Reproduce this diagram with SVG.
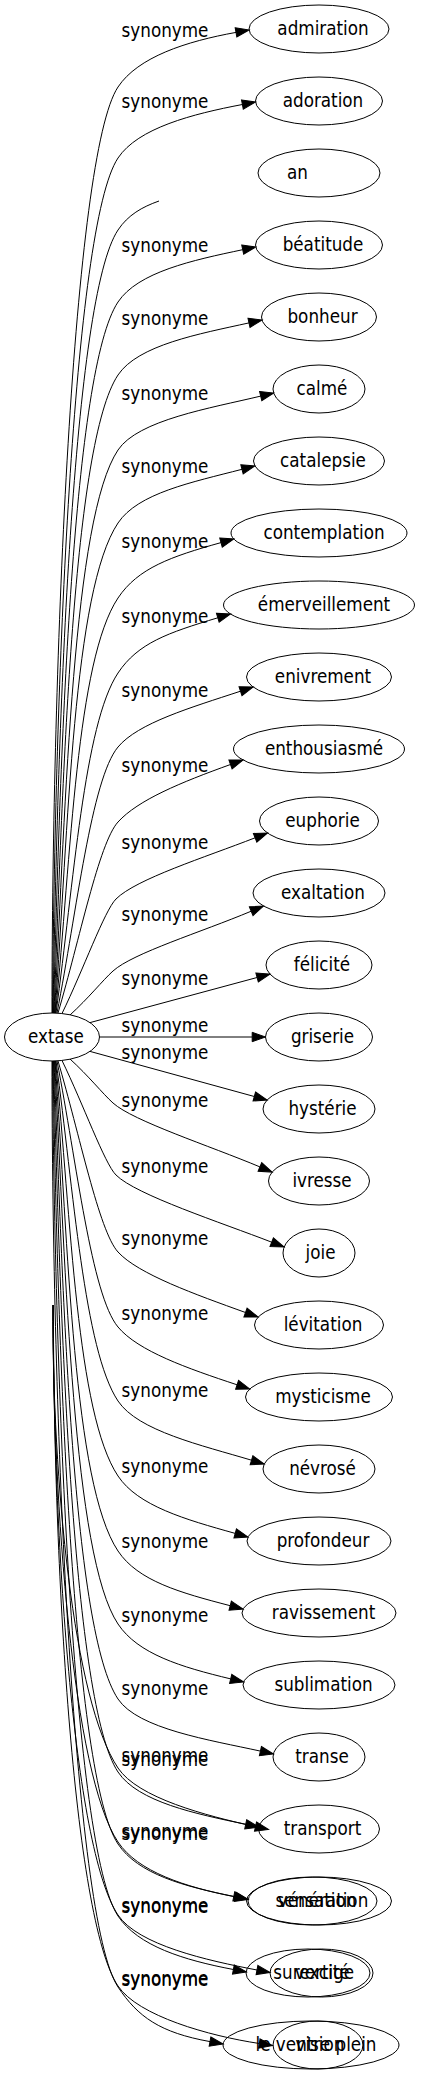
<svg xmlns="http://www.w3.org/2000/svg" width="421" height="2075" viewBox="0 0 421 2075">
<style>
text{font-family:"DejaVu Sans","Liberation Sans",sans-serif;font-stretch:condensed;font-size:18.67px;fill:#000}
.n text{text-anchor:middle}
.e text{text-anchor:middle}
.n ellipse{fill:none;stroke:#000;stroke-width:1}
.e path{fill:none;stroke:#000;stroke-width:1}
.a{marker-end:url(#arr)}
</style>
<defs>
<marker id="arr" markerWidth="14" markerHeight="10" refX="0" refY="4.7" orient="auto" markerUnits="userSpaceOnUse" overflow="visible"><path d="M0,0 L13.3,4.7 L0,9.4 Z" fill="#000" stroke="#000" stroke-width="1"/></marker>
</defs>
<rect width="421" height="2075" fill="#fff"/>
<g id="edges" class="e">
<path class="a" d="M52,1013 C52,661 73,154.5 118,87 C138,57 186,41.4 236,32.4"/><text x="165" y="37">synonyme</text>
<path class="a" d="M52.5,1013 C54.8,688 73,225.5 118,158 C138,128 192.4,114 242.4,104.5"/><text x="165" y="108">synonyme</text>
<path d="M53,1013 C57.6,715.5 73,297.5 118,230 C128,215 142,207 159,201"/>
<path class="a" d="M53.5,1013 C60.4,743 73,369.5 118,302 C138,272 192.7,260.2 242.7,249.7"/><text x="165" y="252">synonyme</text>
<path class="a" d="M54,1013 C63.1,770.6 73,442.5 118,375 C138,345 199,333.9 249,322.9"/><text x="165" y="325">synonyme</text>
<path class="a" d="M54.5,1013 C65.9,799 73,517.5 118,450 C138,420 210.7,408.1 260.7,396.1"/><text x="165" y="400">synonyme</text>
<path class="a" d="M55,1013 C68.5,827 73,590.5 118,523 C138,493 192,482.3 242,469.3"/><text x="165" y="473">synonyme</text>
<path class="a" d="M55.5,1013 C71.1,855.3 76.5,660.3 118,598 C138,568 171,556.6 221,542.6"/><text x="165" y="548">synonyme</text>
<path class="a" d="M56,1013 C73.7,883.8 84,724 118,673 C138,643 167.8,632.8 217.8,617.8"/><text x="165" y="623">synonyme</text>
<path class="a" d="M57,1013 C76.6,912 91.4,778.9 118,747 C138,723 190.5,707.7 240.5,691.2"/><text x="165" y="697">synonyme</text>
<path class="a" d="M58,1013 C79.4,940.4 98.9,843 118,822 C138,800 180.5,782.5 230.5,764.5"/><text x="165" y="772">synonyme</text>
<path class="a" d="M62,1013.5 C83.2,970 104.5,910.5 116,899 C136,879 205.1,857.3 255.1,837.8"/><text x="165" y="849">synonyme</text>
<path class="a" d="M70,1015 C88.4,998.3 103,980 113,971 C133,953 201.2,932.2 251.2,911.2"/><text x="165" y="921">synonyme</text>
<path class="a" d="M90,1022.6 L257.1,977.5"/><text x="165" y="985">synonyme</text>
<path class="a" d="M99.5,1037 L252.2,1037"/><text x="165" y="1032">synonyme</text>
<path class="a" d="M90,1051.4 L254.3,1096.5"/><text x="165" y="1059">synonyme</text>
<path class="a" d="M70,1059 C88.4,1075.7 103,1094 113,1103 C133,1121 209.9,1145.9 259.9,1166.9"/><text x="165" y="1107">synonyme</text>
<path class="a" d="M62,1060.5 C83.2,1104 104.5,1163.5 116,1175 C136,1195 221.7,1222.7 271.7,1242.2"/><text x="165" y="1173">synonyme</text>
<path class="a" d="M58,1061 C79.4,1133.6 98.9,1231 118,1252 C138,1274 195.5,1294.5 245.5,1312.5"/><text x="165" y="1245">synonyme</text>
<path class="a" d="M57,1061 C76.6,1162 91.4,1295.1 118,1327 C138,1351 187.1,1368.3 237.1,1384.8"/><text x="165" y="1320">synonyme</text>
<path class="a" d="M56,1061 C73.7,1190.2 84,1350 118,1401 C138,1431 201.5,1445.2 251.5,1460.2"/><text x="165" y="1397">synonyme</text>
<path class="a" d="M55.5,1061 C71.1,1218.7 76.5,1413.7 118,1476 C138,1506 185.2,1519.4 235.2,1533.4"/><text x="165" y="1473">synonyme</text>
<path class="a" d="M55,1061 C68.5,1247 73,1483.5 118,1551 C138,1581 180.2,1592.7 230.2,1605.7"/><text x="165" y="1548">synonyme</text>
<path class="a" d="M54.5,1061 C65.9,1275 73,1556.5 118,1624 C138,1654 180.7,1666.9 230.7,1678.9"/><text x="165" y="1622">synonyme</text>
<path class="a" d="M54,1061 C63.1,1303.4 73,1631.5 118,1699 C138,1729 210.4,1740.1 260.4,1751.1"/><text x="165" y="1695">synonyme</text>
<path class="a" d="M53.5,1061 C60.4,1331 73,1704.5 118,1772 C138,1802 195.7,1813.8 245.7,1824.3"/><text x="165" y="1766">synonyme</text>
<path class="a" d="M52.7,1305 C52.7,1481 73,1700.5 118,1768 C138,1798 205.5,1815.6 255.5,1826.6"/><text x="165" y="1762">synonyme</text>
<path class="a" d="M53,1061 C57.6,1358.5 73,1776.5 118,1844 C138,1874 183.8,1886.4 233.8,1896.4"/><text x="165" y="1840">synonyme</text>
<path class="a" d="M53,1305 C53,1509 73,1774.5 118,1842 C138,1872 185.2,1886.9 235.2,1896.9"/><text x="165" y="1838">synonyme</text>
<path class="a" d="M52.5,1061 C54.8,1386 73,1848.5 118,1916 C138,1946 183.4,1960 233.4,1969.5"/><text x="165" y="1913">synonyme</text>
<path class="a" d="M53.2,1305 C53.2,1537 73,1847.5 118,1915 C138,1945 207,1960.5 257,1970"/><text x="165" y="1912">synonyme</text>
<path class="a" d="M52,1061 C52,1413 73,1919.5 118,1987 C138,2017 160,2032.6 210,2041.6"/><text x="165" y="1986">synonyme</text>
<path class="a" d="M53.4,1305 C53.4,1563 73,1918.5 118,1986 C138,2016 209.35,2036 259.35,2043.5"/><text x="165" y="1985">synonyme</text>
</g>
<g id="n-extase" class="n"><ellipse cx="52" cy="1037" rx="47.5" ry="24"/><text x="56" y="1043">extase</text></g>
<g id="n-admiration" class="n"><ellipse cx="319" cy="29" rx="70" ry="24"/><text x="323" y="35">admiration</text></g>
<g id="n-adoration" class="n"><ellipse cx="319" cy="101" rx="63.5" ry="24"/><text x="323" y="107">adoration</text></g>
<g id="n-an" class="n"><ellipse cx="319" cy="173" rx="61" ry="24"/><text x="287" y="179" style="text-anchor:start">an</text></g>
<g id="n-beatitude" class="n"><ellipse cx="319" cy="245" rx="63.5" ry="24"/><text x="323" y="251">béatitude</text></g>
<g id="n-bonheur" class="n"><ellipse cx="319" cy="317" rx="57.5" ry="24"/><text x="322.5" y="323">bonheur</text></g>
<g id="n-calme" class="n"><ellipse cx="319" cy="389" rx="46" ry="24"/><text x="322" y="395">calmé</text></g>
<g id="n-catalepsie" class="n"><ellipse cx="319" cy="461" rx="65.5" ry="24"/><text x="323" y="467">catalepsie</text></g>
<g id="n-contemplation" class="n"><ellipse cx="319" cy="533" rx="88" ry="24"/><text x="324" y="539">contemplation</text></g>
<g id="n-emerveillement" class="n"><ellipse cx="319" cy="605" rx="95.5" ry="24"/><text x="324" y="611">émerveillement</text></g>
<g id="n-enivrement" class="n"><ellipse cx="319" cy="677" rx="72.5" ry="24"/><text x="323" y="683">enivrement</text></g>
<g id="n-enthousiasme" class="n"><ellipse cx="319" cy="749" rx="85.5" ry="24"/><text x="324" y="755">enthousiasmé</text></g>
<g id="n-euphorie" class="n"><ellipse cx="319" cy="821" rx="59.5" ry="24"/><text x="322.5" y="827">euphorie</text></g>
<g id="n-exaltation" class="n"><ellipse cx="319" cy="893" rx="66" ry="24"/><text x="323" y="899">exaltation</text></g>
<g id="n-felicite" class="n"><ellipse cx="319" cy="965" rx="53" ry="24"/><text x="322" y="971">félicité</text></g>
<g id="n-griserie" class="n"><ellipse cx="319" cy="1037" rx="53.5" ry="24"/><text x="322.5" y="1043">griserie</text></g>
<g id="n-hysterie" class="n"><ellipse cx="319" cy="1109" rx="56" ry="24"/><text x="322.5" y="1115">hystérie</text></g>
<g id="n-ivresse" class="n"><ellipse cx="319" cy="1181" rx="50.5" ry="24"/><text x="322" y="1187">ivresse</text></g>
<g id="n-joie" class="n"><ellipse cx="319" cy="1253" rx="36" ry="24"/><text x="320.5" y="1259">joie</text></g>
<g id="n-levitation" class="n"><ellipse cx="319" cy="1325" rx="64.5" ry="24"/><text x="323" y="1331">lévitation</text></g>
<g id="n-mysticisme" class="n"><ellipse cx="319" cy="1397" rx="73.5" ry="24"/><text x="323" y="1403">mysticisme</text></g>
<g id="n-nevrose" class="n"><ellipse cx="319" cy="1469" rx="56" ry="24"/><text x="322.5" y="1475">névrosé</text></g>
<g id="n-profondeur" class="n"><ellipse cx="319" cy="1541" rx="72" ry="24"/><text x="323" y="1547">profondeur</text></g>
<g id="n-ravissement" class="n"><ellipse cx="319" cy="1613" rx="77" ry="24"/><text x="323.5" y="1619">ravissement</text></g>
<g id="n-sublimation" class="n"><ellipse cx="319" cy="1685" rx="76" ry="24"/><text x="323.5" y="1691">sublimation</text></g>
<g id="n-transe" class="n"><ellipse cx="319" cy="1757" rx="46" ry="24"/><text x="322" y="1763">transe</text></g>
<g id="n-transport" class="n"><ellipse cx="319" cy="1829" rx="60.5" ry="24"/><text x="322.5" y="1835">transport</text></g>
<g id="n-veneration" class="n"><ellipse cx="319" cy="1901" rx="72.5" ry="24"/><text x="323" y="1907">vénération</text></g>
<g id="n-sensation" class="n"><ellipse cx="312.5" cy="1901" rx="64.5" ry="24"/><text x="316" y="1907">sensation</text></g>
<g id="n-vertige" class="n"><ellipse cx="321.5" cy="1973" rx="51.5" ry="24"/><text x="324.5" y="1979">vertige</text></g>
<g id="n-surexcite" class="n"><ellipse cx="308" cy="1973" rx="62" ry="24"/><text x="311.5" y="1979">surexcité</text></g>
<g id="n-vision" class="n"><ellipse cx="318" cy="2045" rx="45" ry="24"/><text x="320" y="2051">vision</text></g>
<g id="n-le-ventre-plein" class="n"><ellipse cx="311" cy="2045" rx="88" ry="24"/><text x="316" y="2051">le ventre plein</text></g>
</svg>
